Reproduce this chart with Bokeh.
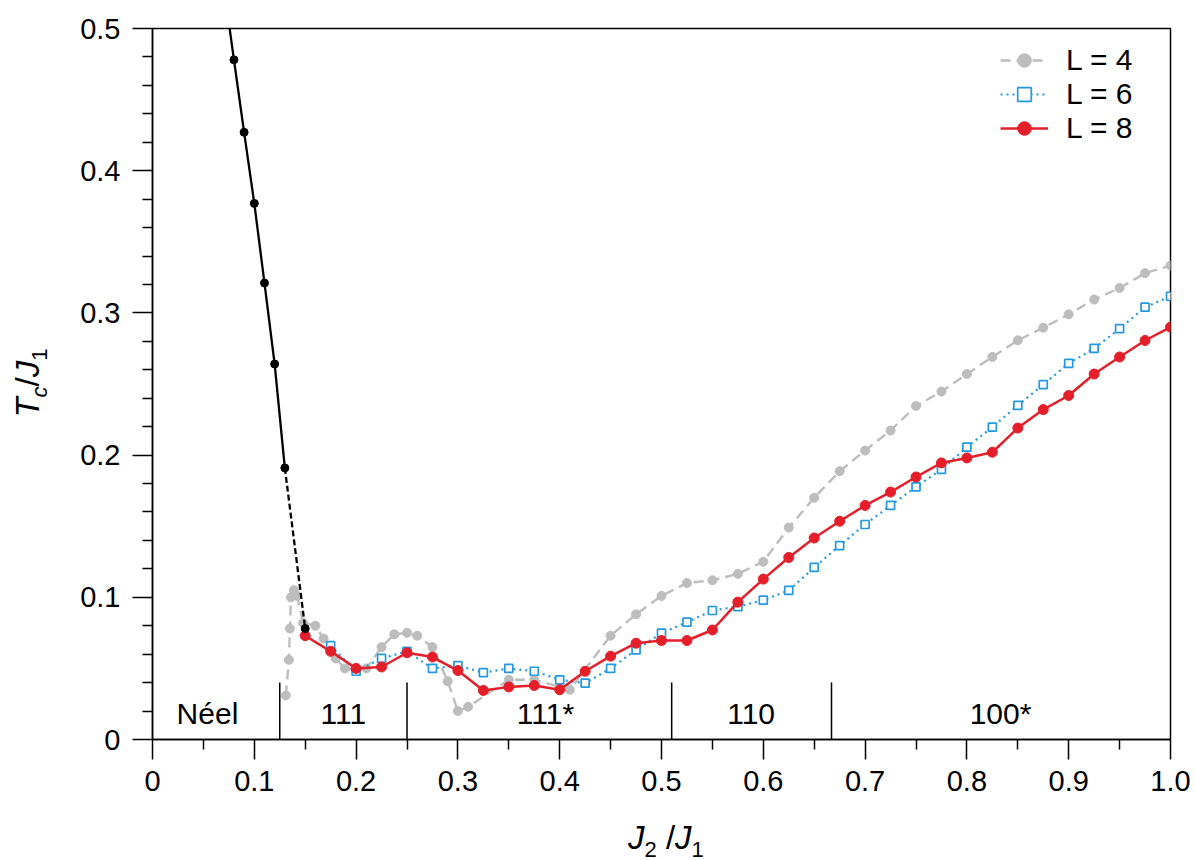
from bokeh.plotting import figure
from bokeh.models import (Range1d, FixedTicker, CustomJSTickFormatter, Legend,
                          LegendItem, Div)
from bokeh.layouts import row, column
from bokeh.core.properties import value
from bokeh.embed import file_html
from bokeh.resources import INLINE

# ---------------- data ----------------
l4_x = [0.131, 0.134, 0.135, 0.136, 0.139, 0.142, 0.148, 0.160, 0.168, 0.180, 0.189,
        0.200, 0.210, 0.225, 0.2375, 0.25, 0.26, 0.275, 0.29, 0.30, 0.31, 0.35, 0.375,
        0.41, 0.45, 0.475, 0.5, 0.525, 0.55, 0.575, 0.6, 0.625, 0.65, 0.675, 0.7,
        0.725, 0.75, 0.775, 0.8, 0.825, 0.85, 0.875, 0.9, 0.925, 0.95, 0.975, 1.0]
l4_y = [0.031, 0.056, 0.078, 0.100, 0.105, 0.101, 0.082, 0.080, 0.071, 0.057, 0.050,
        0.049, 0.050, 0.065, 0.074, 0.075, 0.073, 0.065, 0.041, 0.020, 0.023, 0.042, 0.042,
        0.035, 0.073, 0.088, 0.101, 0.110, 0.112, 0.1165, 0.125, 0.149, 0.170, 0.1887, 0.2032,
        0.2173, 0.2345, 0.2447, 0.257, 0.269, 0.2807, 0.2896, 0.299, 0.3094, 0.3175, 0.328, 0.3333]

l6_x = [0.175, 0.2, 0.225, 0.25, 0.275, 0.3, 0.325, 0.35, 0.375, 0.4, 0.425, 0.45,
        0.475, 0.5, 0.525, 0.55, 0.575, 0.6, 0.625, 0.65, 0.675, 0.7, 0.725, 0.75,
        0.775, 0.8, 0.825, 0.85, 0.875, 0.9, 0.925, 0.95, 0.975, 1.0]
l6_y = [0.066, 0.048, 0.057, 0.062, 0.050, 0.052, 0.047, 0.050, 0.048, 0.042, 0.0396, 0.050,
        0.063, 0.0748, 0.0825, 0.0907, 0.0935, 0.098, 0.1048, 0.121, 0.1364, 0.1512, 0.1646, 0.1776,
        0.190, 0.2056, 0.2197, 0.2349, 0.2496, 0.2645, 0.275, 0.2889, 0.304, 0.3117]

l8_x = [0.15, 0.175, 0.2, 0.225, 0.25, 0.275, 0.3, 0.325, 0.35, 0.375, 0.4, 0.425, 0.45,
        0.475, 0.5, 0.525, 0.55, 0.575, 0.6, 0.625, 0.65, 0.675, 0.7, 0.725, 0.75,
        0.775, 0.8, 0.825, 0.85, 0.875, 0.9, 0.925, 0.95, 0.975, 1.0]
l8_y = [0.073, 0.062, 0.050, 0.051, 0.061, 0.058, 0.0485, 0.0345, 0.037, 0.038, 0.035, 0.048, 0.0586,
        0.0677, 0.0696, 0.0696, 0.077, 0.0966, 0.1128, 0.128, 0.1417, 0.1535, 0.1646, 0.174, 0.1846,
        0.1945, 0.198, 0.202, 0.219, 0.232, 0.2419, 0.257, 0.269, 0.2806, 0.290]

neel_x = [0.07, 0.08, 0.09, 0.10, 0.11, 0.12, 0.13]
neel_y = [0.530, 0.478, 0.427, 0.377, 0.321, 0.264, 0.191]
neel_ext_x = [0.13, 0.15]
neel_ext_y = [0.191, 0.078]

phase_bounds = [0.125, 0.25, 0.51, 0.667]
phase_bound_top = 0.04
phase_names = ["Néel", "111", "111*", "110", "100*"]
phase_name_x = [0.054, 0.1875, 0.386, 0.588, 0.833]
phase_name_y = 0.018

x_major = [0, 0.1, 0.2, 0.3, 0.4, 0.5, 0.6, 0.7, 0.8, 0.9, 1.0]
x_minor = [0.05, 0.15, 0.25, 0.35, 0.45, 0.55, 0.65, 0.75, 0.85, 0.95]
y_major = [0, 0.1, 0.2, 0.3, 0.4, 0.5]
y_minor = [0.02, 0.04, 0.06, 0.08, 0.12, 0.14, 0.16, 0.18, 0.22, 0.24, 0.26, 0.28,
           0.32, 0.34, 0.36, 0.38, 0.42, 0.44, 0.46, 0.48]

series_labels = ["L = 4", "L = 6", "L = 8"]

# ---------------- style ----------------
FONT = "Liberation Sans"
GRAY = "#bdbdbd"
BLUE = "#2299e0"
RED = "#e41f2a"

YDIV_W = 56
XDIV_H = 50

p = figure(width=1195 - YDIV_W, height=860 - XDIV_H, output_backend="svg",
           toolbar_location=None,
           x_range=Range1d(0, 1.0), y_range=Range1d(0, 0.5),
           min_border_left=152 - YDIV_W, min_border_right=25, min_border_top=28,
           min_border_bottom=121 - XDIV_H, background_fill_color="white",
           border_fill_color="white")
p.grid.visible = False
p.outline_line_color = "black"
p.outline_line_width = 1.5

for ax, major, minor in ((p.xaxis[0], x_major, x_minor), (p.yaxis[0], y_major, y_minor)):
    ax.ticker = FixedTicker(ticks=major, minor_ticks=minor)
    ax.formatter = CustomJSTickFormatter(code="return tick == 0 ? '0' : tick.toFixed(1);")
    ax.axis_line_color = "black"
    ax.axis_line_width = 1.5
    ax.major_tick_line_width = 1.5
    ax.minor_tick_line_width = 1.5
    ax.major_tick_out = 20
    ax.major_tick_in = 0
    ax.minor_tick_out = 10
    ax.minor_tick_in = 0
    ax.major_label_text_font = FONT
    ax.major_label_text_font_size = "29px"
    ax.major_label_text_color = "black"
p.xaxis.major_label_standoff = 11
p.yaxis.major_label_standoff = 12

# phase boundaries and names
p.segment(x0=phase_bounds, y0=[0] * len(phase_bounds), x1=phase_bounds,
          y1=[phase_bound_top] * len(phase_bounds), line_color="black", line_width=1.5)
p.text(x=phase_name_x, y=[phase_name_y] * len(phase_name_x), text=phase_names,
       text_font=value(FONT), text_font_size="30px", text_align="center",
       text_baseline="middle", text_color="black")

# L = 4
r4l = p.line(l4_x, l4_y, line_color=GRAY, line_width=2.4, line_dash="10 6")
r4s = p.scatter(l4_x, l4_y, marker="circle", size=9, fill_color=GRAY, line_color=GRAY)
# L = 6
r6l = p.line(l6_x, l6_y, line_color=BLUE, line_width=2.2, line_dash="2 4")
r6s = p.scatter(l6_x, l6_y, marker="square", size=8, fill_color="white",
                line_color=BLUE, line_width=1.7)
# L = 8
r8l = p.line(l8_x, l8_y, line_color=RED, line_width=2.5)
r8s = p.scatter(l8_x, l8_y, marker="circle", size=10, fill_color=RED, line_color=RED)

# Neel curve
p.line(neel_x, neel_y, line_color="black", line_width=2.3)
p.line(neel_ext_x, neel_ext_y, line_color="black", line_width=2.3, line_dash="6 3")
p.scatter(neel_x + neel_ext_x[1:], neel_y + neel_ext_y[1:], marker="circle", size=8,
          fill_color="black", line_color="black")

legend = Legend(items=[LegendItem(label=series_labels[0], renderers=[r4l, r4s]),
                       LegendItem(label=series_labels[1], renderers=[r6l, r6s]),
                       LegendItem(label=series_labels[2], renderers=[r8l, r8s])],
                location=(848, 594), padding=0, margin=0, spacing=0,
                glyph_width=48, glyph_height=34, label_height=34, label_standoff=18,
                label_text_font=FONT, label_text_font_size="30px",
                label_text_color="black",
                border_line_color=None, background_fill_alpha=0)
p.add_layout(legend)

# ---------------- axis titles (HTML text with italics and subscripts) ----------------
base = f"font-family:'{FONT}';color:black;white-space:nowrap;"
sub = "font-size:22px;position:relative;top:8px;font-style:normal;"
x_title = (f'<div style="{base}font-size:33px;line-height:34px;padding-top:11px;'
           f'padding-left:628px;">'
           f'<i>J</i><span style="{sub}">2</span> /<i>J</i><span style="{sub}">1</span></div>')
y_sub = "font-size:22px;position:relative;top:8px;"
y_title = (f'<div style="width:{YDIV_W}px;height:{860 - XDIV_H}px;display:flex;'
           f'align-items:center;justify-content:center;">'
           f'<span style="{base}display:inline-block;font-size:33px;line-height:34px;'
           f'transform:translate(2px,-22px) rotate(-90deg);">'
           f'<i>T</i><span style="{y_sub}font-style:italic;">c</span>/<i>J</i>'
           f'<span style="{y_sub}">1</span></span></div>')

ydiv = Div(text=y_title, width=YDIV_W, height=860 - XDIV_H, margin=0)
xdiv = Div(text=x_title, width=1195, height=XDIV_H, margin=0)

layout = column(row(ydiv, p, spacing=0), xdiv, spacing=0)

open("out.html", "w").write(file_html(layout, INLINE))
